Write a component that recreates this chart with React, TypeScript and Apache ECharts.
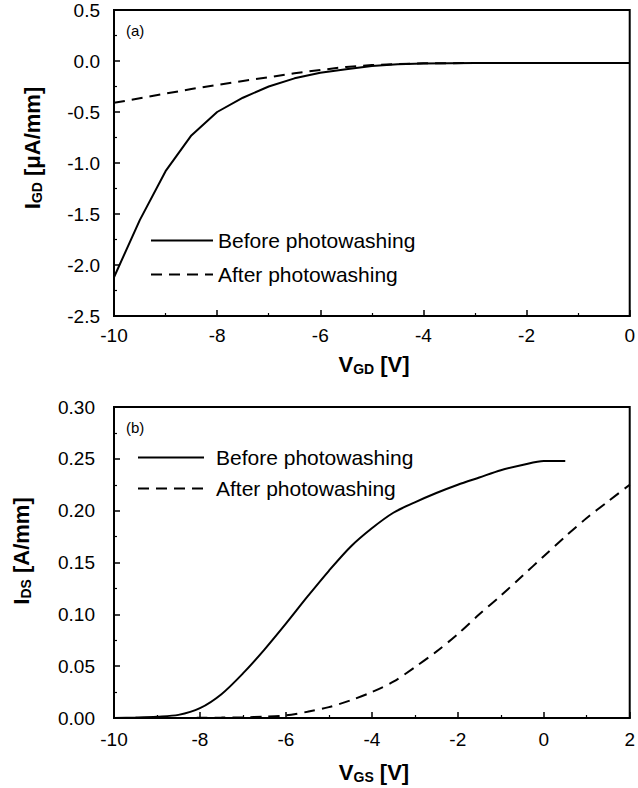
import React, { useEffect, useRef } from "react";
import * as echarts from "echarts";

const FONT = "'Liberation Sans', Arial, Helvetica, sans-serif";

// Panel (a): gate-drain diode
const vgd = [-10, -9.5, -9, -8.5, -8, -7.5, -7, -6.5, -6, -5.5, -5, -4.5, -4, -3, -2, -1, 0];
const igdBefore = [-2.12, -1.56, -1.08, -0.73, -0.5, -0.36, -0.25, -0.17, -0.115, -0.08, -0.05, -0.033, -0.024, -0.02, -0.02, -0.02, -0.02];
const igdAfter = [-0.41, -0.365, -0.32, -0.275, -0.235, -0.195, -0.16, -0.12, -0.088, -0.058, -0.04, -0.03, -0.022, -0.02, -0.02, -0.02, -0.02];

// Panel (b): transfer characteristics
const vgsBefore = [-10, -9.5, -9, -8.5, -8, -7.5, -7, -6.5, -6, -5.5, -5, -4.5, -4, -3.5, -3, -2.5, -2, -1.5, -1, -0.5, 0, 0.5];
const idsBefore = [0, 0.0005, 0.0013, 0.003, 0.0095, 0.023, 0.043, 0.066, 0.091, 0.117, 0.142, 0.165, 0.183, 0.198, 0.208, 0.217, 0.225, 0.232, 0.239, 0.244, 0.248, 0.248];
const vgsAfter = [-8.5, -8, -7.5, -7, -6.5, -6, -5.5, -5, -4.5, -4, -3.5, -3, -2.5, -2, -1.5, -1, -0.5, 0, 0.5, 1, 1.5, 2];
const idsAfter = [0, 0.0002, 0.0004, 0.0007, 0.0012, 0.0025, 0.006, 0.0105, 0.017, 0.025, 0.035, 0.049, 0.064, 0.081, 0.1, 0.118, 0.137, 0.156, 0.175, 0.193, 0.209, 0.225];

const seriesNames = ["Before photowashing", "After photowashing"];

const pair = (xs: number[], ys: number[]) => xs.map((x, i) => [x, ys[i]]);

export default function App() {
  const ref = useRef<HTMLDivElement>(null);
  useEffect(() => {
    if (!ref.current) return;
    const chart = echarts.init(ref.current, undefined, { renderer: "svg" });

    const axisCommon = {
      axisLine: { show: true, onZero: false, lineStyle: { color: "#000", width: 2 } },
      axisTick: { show: true, inside: true, length: 6, lineStyle: { color: "#000", width: 1.5 } },
      minorTick: { show: true, splitNumber: 2, length: 3, lineStyle: { color: "#000", width: 1.2 } },
      splitLine: { show: false },
      axisLabel: { color: "#000", fontSize: 19, fontFamily: FONT },
    };

    const titleRich = {
      b: { fontSize: 22, fontWeight: "bold", fontFamily: FONT, color: "#000", lineHeight: 24 },
      s: { fontSize: 14, fontWeight: "bold", fontFamily: FONT, color: "#000", lineHeight: 14, verticalAlign: "bottom" },
    };

    const lineSolid = { color: "#000", width: 2, type: "solid" as const };
    const lineDash = { color: "#000", width: 2, type: [11, 7] as any };

    const legendCommon = {
      orient: "vertical",
      padding: 0,
      itemHeight: 20,
      data: seriesNames,
      selectedMode: false,
      itemStyle: { opacity: 0 },
    };

    chart.setOption({
      animation: false,
      backgroundColor: "#fff",
      grid: [
        { left: 114, top: 10, width: 520, height: 306, show: true, borderColor: "#000", borderWidth: 2, containLabel: false },
        { left: 114, top: 407, width: 521, height: 311, show: true, borderColor: "#000", borderWidth: 2, containLabel: false },
      ],
      xAxis: [
        { ...axisCommon, gridIndex: 0, type: "value", min: -10, max: 0, interval: 2,
          axisLabel: { ...axisCommon.axisLabel, margin: 10 } },
        { ...axisCommon, gridIndex: 1, type: "value", min: -10, max: 2, interval: 2,
          axisLabel: { ...axisCommon.axisLabel, margin: 12 } },
      ],
      yAxis: [
        { ...axisCommon, gridIndex: 0, type: "value", min: -2.5, max: 0.5, interval: 0.5,
          axisLabel: { ...axisCommon.axisLabel, margin: 14, formatter: (v: number) => v.toFixed(1) } },
        { ...axisCommon, gridIndex: 1, type: "value", min: 0, max: 0.3, interval: 0.05,
          axisLabel: { ...axisCommon.axisLabel, margin: 19, formatter: (v: number) => v.toFixed(2) } },
      ],
      legend: [
        { ...legendCommon, left: 150, top: 230, itemWidth: 62, itemGap: 13,
          textStyle: { fontSize: 21, fontFamily: FONT, color: "#000", lineHeight: 20 } },
        { ...legendCommon, left: 137, top: 447, itemWidth: 66, itemGap: 10,
          textStyle: { fontSize: 21, fontFamily: FONT, color: "#000", lineHeight: 20, padding: [0, 0, 0, 7] } },
      ],
      series: [
        { name: seriesNames[0], type: "line", xAxisIndex: 0, yAxisIndex: 0, data: pair(vgd, igdBefore),
          symbol: "none", lineStyle: lineSolid, itemStyle: { color: "#000" } },
        { name: seriesNames[1], type: "line", xAxisIndex: 0, yAxisIndex: 0, data: pair(vgd, igdAfter),
          symbol: "none", lineStyle: lineDash, itemStyle: { color: "#000" } },
        { name: seriesNames[0], type: "line", xAxisIndex: 1, yAxisIndex: 1, data: pair(vgsBefore, idsBefore),
          symbol: "none", smooth: 0.3, lineStyle: lineSolid, itemStyle: { color: "#000" } },
        { name: seriesNames[1], type: "line", xAxisIndex: 1, yAxisIndex: 1, data: pair(vgsAfter, idsAfter),
          symbol: "none", smooth: 0.3, lineStyle: lineDash, itemStyle: { color: "#000" } },
      ],
      graphic: [
        { type: "text", left: 126, top: 23, style: { text: "(a)", fontSize: 15, fontFamily: FONT, fill: "#000" } },
        { type: "text", left: 126, top: 420, style: { text: "(b)", fontSize: 15, fontFamily: FONT, fill: "#000" } },
        { type: "text", x: 374, y: 364, style: { text: "{b|V}{s|GD}{b| [V]}", rich: titleRich, align: "center", verticalAlign: "middle" } },
        { type: "text", x: 374, y: 772, style: { text: "{b|V}{s|GS}{b| [V]}", rich: titleRich, align: "center", verticalAlign: "middle" } },
        { type: "text", x: 32, y: 148, rotation: Math.PI / 2, style: { text: "{b|I}{s|GD}{b| [μA/mm]}", rich: titleRich, align: "center", verticalAlign: "middle" } },
        { type: "text", x: 21, y: 551, rotation: Math.PI / 2, style: { text: "{b|I}{s|DS}{b| [A/mm]}", rich: titleRich, align: "center", verticalAlign: "middle" } },
      ],
    });
    return () => chart.dispose();
  }, []);
  return <div ref={ref} style={{ position: "absolute", left: 0, top: 0, width: 638, height: 788 }} />;
}
